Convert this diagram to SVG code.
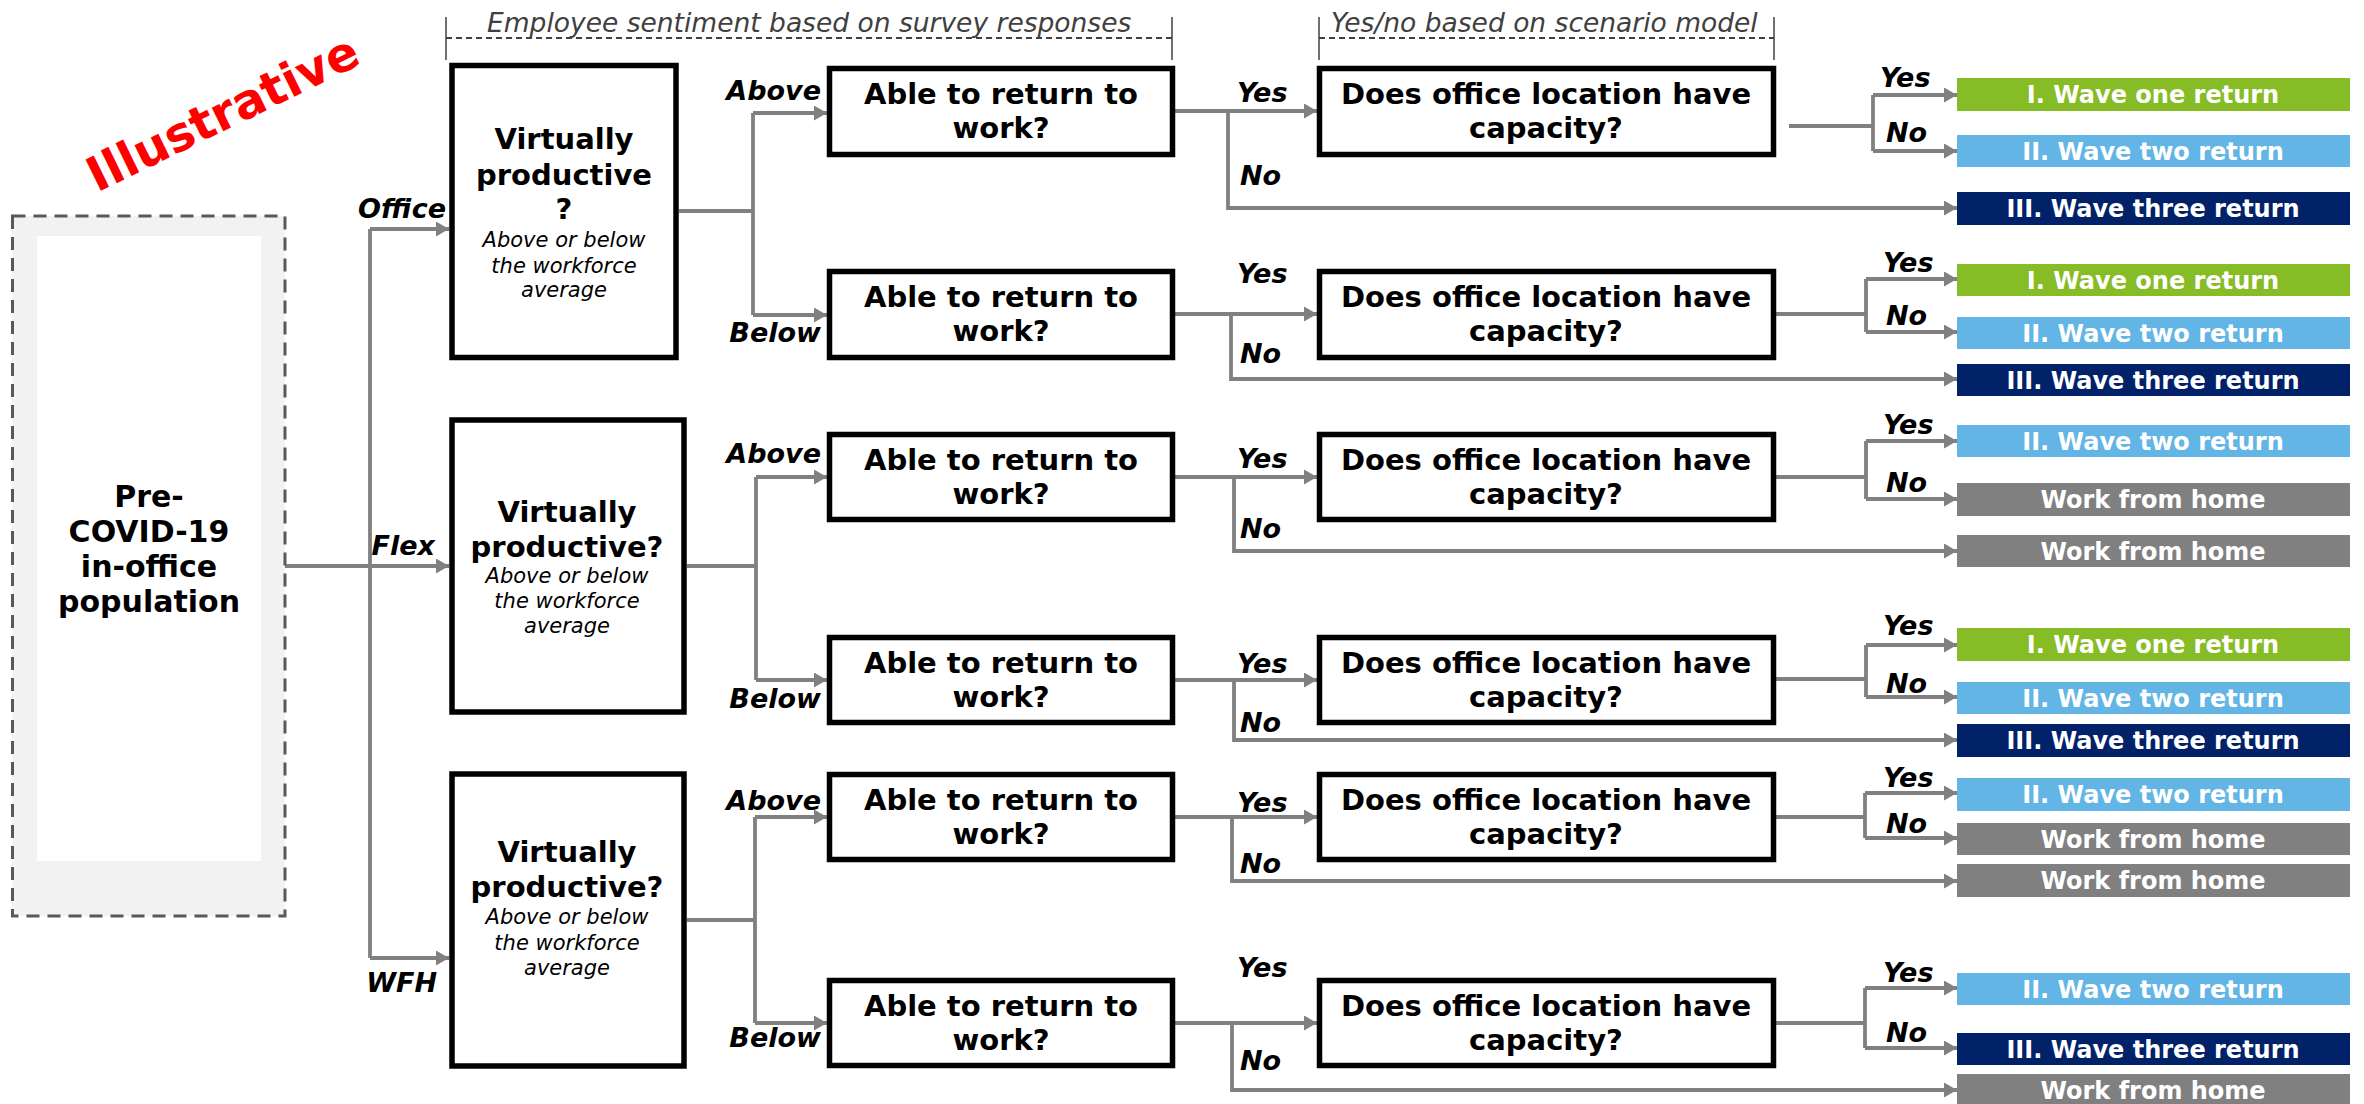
<svg xmlns="http://www.w3.org/2000/svg" width="2364" height="1104" viewBox="0 0 2364 1104">
<style>
text{font-family:"DejaVu Sans",Verdana,sans-serif}
.b{font-weight:bold;font-size:29px;fill:#000;text-anchor:middle}
.p{font-size:30px}
.sub{font-style:italic;font-size:21px;fill:#000;text-anchor:middle}
.lbl{font-weight:bold;font-style:italic;font-size:27px;fill:#000}
.hdr{font-style:italic;font-size:26.5px;fill:#404040}
.out{font-weight:bold;font-size:24px;fill:#fff;text-anchor:middle}
.box{fill:#fff;stroke:#000;stroke-width:5.5}
.c{fill:none;stroke:#808080;stroke-width:3.8}
.a{marker-end:url(#ah)}
.g1{fill:#86bc25}.g2{fill:#62b5e5}.g3{fill:#012169}.g4{fill:#808080}
.tick{stroke:#404040;stroke-width:1.5;fill:none}
.dash{stroke:#404040;stroke-width:2;stroke-dasharray:6 4;fill:none}
</style>
<defs>
<marker id="ah" markerUnits="userSpaceOnUse" markerWidth="14" markerHeight="16" refX="13" refY="7.5" orient="auto">
<path d="M0,0 L13,7.5 L0,15 z" fill="#808080"/>
</marker>
</defs>

<g id="illustrative">
<text x="230" y="128" transform="rotate(-26 230 128)" style="font-weight:bold;font-size:48px;fill:#ff0000;text-anchor:middle">Illustrative</text>
</g>

<g id="headers">
<text class="hdr" x="487" y="32">Employee sentiment based on survey responses</text>
<line class="dash" x1="446" y1="38" x2="1172" y2="38"/>
<line class="tick" x1="446" y1="17" x2="446" y2="60"/>
<line class="tick" x1="1172" y1="17" x2="1172" y2="60"/>
<text class="hdr" x="1331" y="32">Yes/no based on scenario model</text>
<line class="dash" x1="1319" y1="38" x2="1774" y2="38"/>
<line class="tick" x1="1319" y1="17" x2="1319" y2="60"/>
<line class="tick" x1="1774" y1="17" x2="1774" y2="60"/>
</g>

<g id="connectors">
<path class="c a" d="M285,566 H449"/>
<path class="c" d="M370,229 V958"/>
<path class="c a" d="M370,229 H449"/>
<path class="c a" d="M370,958 H449"/>
<path class="c" d="M679,211 H753 M753,113 V315"/>
<path class="c a" d="M753,113 H827"/>
<path class="c a" d="M753,315 H827"/>
<path class="c" d="M687,566 H756 M756,477 V680"/>
<path class="c a" d="M756,477 H827"/>
<path class="c a" d="M756,680 H827"/>
<path class="c" d="M687,920 H755 M755,817 V1023"/>
<path class="c a" d="M755,817 H827"/>
<path class="c a" d="M755,1023 H827"/>
<path class="c a" d="M1175,111 H1317"/>
<path class="c a" d="M1228,111 V208 H1957"/>
<path class="c a" d="M1175,314 H1317"/>
<path class="c a" d="M1231,314 V379 H1957"/>
<path class="c a" d="M1175,477 H1317"/>
<path class="c a" d="M1234,477 V551 H1957"/>
<path class="c a" d="M1175,680 H1317"/>
<path class="c a" d="M1234,680 V740 H1957"/>
<path class="c a" d="M1175,817 H1317"/>
<path class="c a" d="M1232,817 V881 H1957"/>
<path class="c a" d="M1175,1023 H1317"/>
<path class="c a" d="M1232,1023 V1090 H1957"/>
<path class="c" d="M1789,126 H1873 M1873,95 V151"/>
<path class="c a" d="M1873,95 H1957"/>
<path class="c a" d="M1873,151 H1957"/>
<path class="c" d="M1776,314 H1866 M1866,279 V332"/>
<path class="c a" d="M1866,279 H1957"/>
<path class="c a" d="M1866,332 H1957"/>
<path class="c" d="M1776,477 H1866 M1866,441 V499"/>
<path class="c a" d="M1866,441 H1957"/>
<path class="c a" d="M1866,499 H1957"/>
<path class="c" d="M1776,679 H1866 M1866,645 V697"/>
<path class="c a" d="M1866,645 H1957"/>
<path class="c a" d="M1866,697 H1957"/>
<path class="c" d="M1776,817 H1865 M1865,793 V838"/>
<path class="c a" d="M1865,793 H1957"/>
<path class="c a" d="M1865,838 H1957"/>
<path class="c" d="M1776,1023 H1865 M1865,988 V1048"/>
<path class="c a" d="M1865,988 H1957"/>
<path class="c a" d="M1865,1048 H1957"/>
</g>

<g id="edge-labels">
<text class="lbl" x="446" y="218" text-anchor="end">Office</text>
<text class="lbl" x="435" y="555" text-anchor="end">Flex</text>
<text class="lbl" x="437" y="992" text-anchor="end">WFH</text>
<text class="lbl" x="821" y="100" text-anchor="end">Above</text>
<text class="lbl" x="821" y="342" text-anchor="end">Below</text>
<text class="lbl" x="821" y="463" text-anchor="end">Above</text>
<text class="lbl" x="821" y="708" text-anchor="end">Below</text>
<text class="lbl" x="821" y="810" text-anchor="end">Above</text>
<text class="lbl" x="821" y="1047" text-anchor="end">Below</text>
<text class="lbl" x="1237" y="102">Yes</text><text class="lbl" x="1240" y="185">No</text>
<text class="lbl" x="1237" y="283">Yes</text><text class="lbl" x="1240" y="363">No</text>
<text class="lbl" x="1237" y="468">Yes</text><text class="lbl" x="1240" y="538">No</text>
<text class="lbl" x="1237" y="673">Yes</text><text class="lbl" x="1240" y="732">No</text>
<text class="lbl" x="1237" y="812">Yes</text><text class="lbl" x="1240" y="873">No</text>
<text class="lbl" x="1237" y="977">Yes</text><text class="lbl" x="1240" y="1070">No</text>
<text class="lbl" x="1880" y="87">Yes</text><text class="lbl" x="1886" y="142">No</text>
<text class="lbl" x="1883" y="272">Yes</text><text class="lbl" x="1886" y="325">No</text>
<text class="lbl" x="1883" y="434">Yes</text><text class="lbl" x="1886" y="492">No</text>
<text class="lbl" x="1883" y="635">Yes</text><text class="lbl" x="1886" y="693">No</text>
<text class="lbl" x="1883" y="787">Yes</text><text class="lbl" x="1886" y="833">No</text>
<text class="lbl" x="1883" y="982">Yes</text><text class="lbl" x="1886" y="1042">No</text>
</g>

<g id="population">
<rect x="12.5" y="216" width="272.5" height="700" fill="#f2f2f2" stroke="#555a61" stroke-width="3" stroke-dasharray="13 8"/>
<rect x="37" y="236" width="224" height="625" fill="#fff"/>
<text class="b p" x="149" y="507">Pre-</text>
<text class="b p" x="149" y="542">COVID-19</text>
<text class="b p" x="149" y="577">in-office</text>
<text class="b p" x="149" y="612">population</text>
</g>

<g id="vp-office">
<rect class="box" x="452" y="65.5" width="224" height="292"/>
<text class="b" x="564" y="149">Virtually</text>
<text class="b" x="564" y="185">productive</text>
<text class="b" x="564" y="219">?</text>
<text class="sub" x="564" y="247">Above or below</text>
<text class="sub" x="564" y="273">the workforce</text>
<text class="sub" x="564" y="297">average</text>
</g>
<g id="vp-flex">
<rect class="box" x="452" y="420" width="232" height="292"/>
<text class="b" x="567" y="522">Virtually</text>
<text class="b" x="567" y="557">productive?</text>
<text class="sub" x="567" y="583">Above or below</text>
<text class="sub" x="567" y="608">the workforce</text>
<text class="sub" x="567" y="633">average</text>
</g>
<g id="vp-wfh">
<rect class="box" x="452" y="774" width="232" height="292"/>
<text class="b" x="567" y="862">Virtually</text>
<text class="b" x="567" y="897">productive?</text>
<text class="sub" x="567" y="924">Above or below</text>
<text class="sub" x="567" y="950">the workforce</text>
<text class="sub" x="567" y="975">average</text>
</g>

<g id="able-1"><rect class="box" x="829.5" y="68.5" width="343" height="86"/><text class="b" x="1001" y="104">Able to return to</text><text class="b" x="1001" y="138">work?</text></g>
<g id="able-2"><rect class="box" x="829.5" y="271.5" width="343" height="86"/><text class="b" x="1001" y="307">Able to return to</text><text class="b" x="1001" y="341">work?</text></g>
<g id="able-3"><rect class="box" x="829.5" y="434.5" width="343" height="85"/><text class="b" x="1001" y="470">Able to return to</text><text class="b" x="1001" y="504">work?</text></g>
<g id="able-4"><rect class="box" x="829.5" y="637.5" width="343" height="85"/><text class="b" x="1001" y="673">Able to return to</text><text class="b" x="1001" y="707">work?</text></g>
<g id="able-5"><rect class="box" x="829.5" y="774.5" width="343" height="85"/><text class="b" x="1001" y="810">Able to return to</text><text class="b" x="1001" y="844">work?</text></g>
<g id="able-6"><rect class="box" x="829.5" y="980.5" width="343" height="85"/><text class="b" x="1001" y="1016">Able to return to</text><text class="b" x="1001" y="1050">work?</text></g>

<g id="cap-1"><rect class="box" x="1319.5" y="68.5" width="454" height="86"/><text class="b" x="1546" y="104">Does office location have</text><text class="b" x="1546" y="138">capacity?</text></g>
<g id="cap-2"><rect class="box" x="1319.5" y="271.5" width="454" height="86"/><text class="b" x="1546" y="307">Does office location have</text><text class="b" x="1546" y="341">capacity?</text></g>
<g id="cap-3"><rect class="box" x="1319.5" y="434.5" width="454" height="85"/><text class="b" x="1546" y="470">Does office location have</text><text class="b" x="1546" y="504">capacity?</text></g>
<g id="cap-4"><rect class="box" x="1319.5" y="637.5" width="454" height="85"/><text class="b" x="1546" y="673">Does office location have</text><text class="b" x="1546" y="707">capacity?</text></g>
<g id="cap-5"><rect class="box" x="1319.5" y="774.5" width="454" height="85"/><text class="b" x="1546" y="810">Does office location have</text><text class="b" x="1546" y="844">capacity?</text></g>
<g id="cap-6"><rect class="box" x="1319.5" y="980.5" width="454" height="85"/><text class="b" x="1546" y="1016">Does office location have</text><text class="b" x="1546" y="1050">capacity?</text></g>

<g id="outcomes">
<g id="o1a"><rect class="g1" x="1957" y="78" width="393" height="33"/><text class="out" x="2153" y="103">I. Wave one return</text></g>
<g id="o1b"><rect class="g2" x="1957" y="135" width="393" height="32"/><text class="out" x="2153" y="159.5">II. Wave two return</text></g>
<g id="o1c"><rect class="g3" x="1957" y="192" width="393" height="33"/><text class="out" x="2153" y="217">III. Wave three return</text></g>
<g id="o2a"><rect class="g1" x="1957" y="264" width="393" height="32"/><text class="out" x="2153" y="288.5">I. Wave one return</text></g>
<g id="o2b"><rect class="g2" x="1957" y="317" width="393" height="32"/><text class="out" x="2153" y="341.5">II. Wave two return</text></g>
<g id="o2c"><rect class="g3" x="1957" y="364" width="393" height="32"/><text class="out" x="2153" y="388.5">III. Wave three return</text></g>
<g id="o3a"><rect class="g2" x="1957" y="425" width="393" height="32"/><text class="out" x="2153" y="449.5">II. Wave two return</text></g>
<g id="o3b"><rect class="g4" x="1957" y="483" width="393" height="33"/><text class="out" x="2153" y="508">Work from home</text></g>
<g id="o3c"><rect class="g4" x="1957" y="535" width="393" height="32"/><text class="out" x="2153" y="559.5">Work from home</text></g>
<g id="o4a"><rect class="g1" x="1957" y="628" width="393" height="33"/><text class="out" x="2153" y="653">I. Wave one return</text></g>
<g id="o4b"><rect class="g2" x="1957" y="682" width="393" height="32"/><text class="out" x="2153" y="706.5">II. Wave two return</text></g>
<g id="o4c"><rect class="g3" x="1957" y="724" width="393" height="33"/><text class="out" x="2153" y="749">III. Wave three return</text></g>
<g id="o5a"><rect class="g2" x="1957" y="778" width="393" height="33"/><text class="out" x="2153" y="803">II. Wave two return</text></g>
<g id="o5b"><rect class="g4" x="1957" y="823" width="393" height="32"/><text class="out" x="2153" y="847.5">Work from home</text></g>
<g id="o5c"><rect class="g4" x="1957" y="864" width="393" height="33"/><text class="out" x="2153" y="889">Work from home</text></g>
<g id="o6a"><rect class="g2" x="1957" y="973" width="393" height="32"/><text class="out" x="2153" y="997.5">II. Wave two return</text></g>
<g id="o6b"><rect class="g3" x="1957" y="1033" width="393" height="32"/><text class="out" x="2153" y="1057.5">III. Wave three return</text></g>
<g id="o6c"><rect class="g4" x="1957" y="1074" width="393" height="32"/><text class="out" x="2153" y="1098.5">Work from home</text></g>
</g>
</svg>
